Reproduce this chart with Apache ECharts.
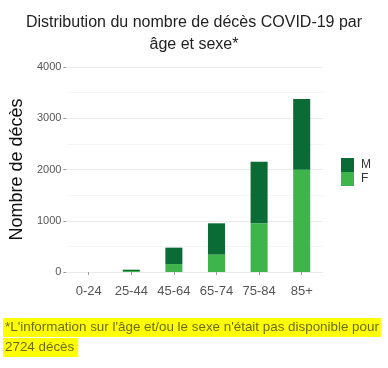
<!DOCTYPE html>
<html><head><meta charset="utf-8">
<script src="https://cdn.jsdelivr.net/npm/echarts@6/dist/echarts.min.js"></script>
<style>html,body{margin:0;padding:0;background:#fff}#c{width:388px;height:368px}</style>
</head><body><div id="c"></div>
<script>
var categories = ['0-24','25-44','45-64','65-74','75-84','85+'];
var femmes = [0, 20, 155, 340, 950, 1995];
var hommes = [0, 25, 320, 610, 1200, 1380];
var yTicks = [0, 1000, 2000, 3000, 4000];
var titleText = 'Distribution du nombre de décès COVID-19 par\nâge et sexe*';
var noteLine1 = "*L'information sur l'âge et/ou le sexe n'était pas disponible pour";
var noteLine2 = '2724 décès';

var chart = echarts.init(document.getElementById('c'));
chart.setOption({
  animation: false,
  textStyle: {fontFamily: 'Liberation Sans, Arial, sans-serif'},
  title: {
    text: titleText, left: 'center', top: 7,
    textStyle: {fontSize: 16, fontWeight: 'normal', color: '#222', lineHeight: 22, fontFamily: 'Liberation Sans, Arial, sans-serif'}
  },
  grid: {left: 58, right: 65, top: 67, bottom: 96},
  legend: {
    orient: 'vertical', left: 341, top: 158, padding: 0, itemWidth: 13, itemHeight: 14, itemGap: 0,
    icon: 'rect', data: ['M','F'],
    textStyle: {fontSize: 12, color: '#333', padding: [0,0,0,2]}
  },
  xAxis: {
    type: 'category', data: categories, offset: 10,
    axisLine: {show: false},
    axisTick: {show: true, alignWithLabel: true, length: 3, lineStyle: {color: '#999'}},
    axisLabel: {fontSize: 13, color: '#555', margin: 3, interval: 0},
    splitLine: {show: false}
  },
  yAxis: {
    type: 'value', min: 0, max: 4000, interval: 1000, offset: 1,
    name: 'Nombre de décès', nameLocation: 'middle', nameGap: 35,
    nameTextStyle: {fontSize: 18, color: '#111'},
    axisLine: {show: false},
    axisTick: {show: true, length: 3, lineStyle: {color: '#999'}},
    axisLabel: {fontSize: 11, color: '#555', margin: 5, formatter: function (v) { return String(v); }},
    splitLine: {lineStyle: {color: '#ebebeb'}},
    minorTick: {show: false, splitNumber: 2},
    minorSplitLine: {show: true, lineStyle: {color: '#f5f5f5'}}
  },
  series: [
    {name: 'F', type: 'bar', stack: 's', data: femmes, barWidth: '40%', itemStyle: {color: '#3db54a'}},
    {name: 'M', type: 'bar', stack: 's', data: hommes, barWidth: '40%', itemStyle: {color: '#0a6b35'}}
  ],
  graphic: [
    {type: 'text', left: 3, top: 318, style: {text: noteLine1, fontSize: 13.4, fill: '#6b6b14', backgroundColor: '#ffff00', padding: [3,2,3,2], fontFamily: 'Liberation Sans, Arial, sans-serif'}},
    {type: 'text', left: 3, top: 338, style: {text: noteLine2, fontSize: 13.4, fill: '#6b6b14', backgroundColor: '#ffff00', padding: [3,4,3,2], fontFamily: 'Liberation Sans, Arial, sans-serif'}}
  ]
});
</script></body></html>
